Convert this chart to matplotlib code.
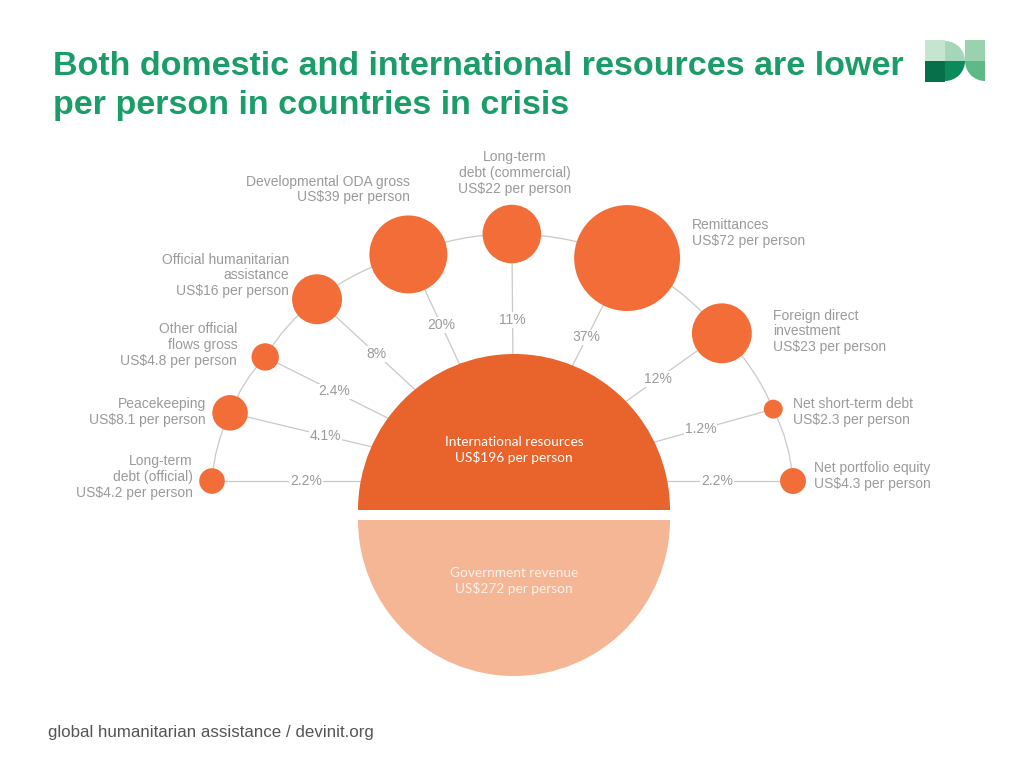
import matplotlib
matplotlib.use("Agg")
import matplotlib.pyplot as plt
import numpy as np
from matplotlib.patches import Circle, Wedge, Rectangle, FancyArrowPatch

# ---------------- data ----------------
flows = ["Long-term\ndebt (official)", "Peacekeeping", "Other official\nflows gross",
         "Official humanitarian\nassistance", "Developmental ODA gross",
         "Long-term\ndebt (commercial)", "Remittances", "Foreign direct\ninvestment",
         "Net short-term debt", "Net portfolio equity"]
per_person = [4.2, 8.1, 4.8, 16, 39, 22, 72, 23, 2.3, 4.3]
share_pct = ["2.2%", "4.1%", "2.4%", "8%", "20%", "11%", "37%", "12%", "1.2%", "2.2%"]

international_total = 196
government_total = 272

title = "Both domestic and international resources are lower\nper person in countries in crisis"
source = "global humanitarian assistance / devinit.org"

# ---------------- layout (pixels) ----------------
hub = (514, 481)                      # spokes converge here
angle_deg = [180, 166.5, 153.5, 137.3, 115, 90.5, 63.1, 35.4, 15.5, 0]
dist = [302, 292, 278, 268, 250, 247, 250, 255, 269, 279]
pct_dist = [208, 194, 201, 187, 172, 161, 161, 176, 194, 203]
lab_off = [(-19, -4, "right"), (-24, -1, "right"), (-28, -12, "right"), (-28, -24, "right"),
           (2, -65, "right"), (3, -61, "center"), (65, -25, "left"), (51, -2, "left"),
           (20, 3, "left"), (21, -5, "left")]
bubble_k = 6.24                      # radius = k * sqrt(value)

ORANGE = "#F26D38"
DARK_ORANGE = "#E8642C"
LIGHT_ORANGE = "#F5B696"
GREY_LINE = "#c9c9c9"
GREY_TEXT = "#9a9a9a"
GREEN = "#1b9d69"

fig = plt.figure(figsize=(10.24, 7.68), dpi=100)
ax = fig.add_axes([0, 0, 1, 1])
ax.set_xlim(0, 1024)
ax.set_ylim(768, 0)
ax.set_aspect("equal")
ax.axis("off")

sans = ["Liberation Sans", "DejaVu Sans"]

def polar(a, d):
    r = np.deg2rad(a)
    return hub[0] + d * np.cos(r), hub[1] - d * np.sin(r)

centers = [polar(a, d) for a, d in zip(angle_deg, dist)]

# arc linking the bubbles
for p, q in zip(centers[:-1], centers[1:]):
    ax.add_patch(FancyArrowPatch(p, q, arrowstyle="-", connectionstyle="arc3,rad=-0.1",
                                 color=GREY_LINE, lw=0.9, zorder=1, shrinkA=0, shrinkB=0))

# spokes + percentage labels
for (cx, cy), a, pd, s in zip(centers, angle_deg, pct_dist, share_pct):
    ax.plot([cx, hub[0]], [cy, hub[1]], color=GREY_LINE, lw=0.9, zorder=1)
    tx, ty = polar(a, pd)
    ax.text(tx, ty, s, ha="center", va="center", fontsize=10, color=GREY_TEXT,
            family=sans, zorder=2,
            bbox=dict(boxstyle="square,pad=0.05", fc="white", ec="none"))

# bubbles + labels
for (cx, cy), v, name, (dx, dy, ha) in zip(centers, per_person, flows, lab_off):
    ax.add_patch(Circle((cx, cy), bubble_k * np.sqrt(v), color=ORANGE, lw=0, zorder=3))
    ax.text(cx + dx, cy + dy, f"{name}\nUS${v:g} per person", ha=ha, va="center",
            multialignment=ha, fontsize=10, color=GREY_TEXT, family=sans,
            linespacing=1.15, zorder=4)

# central halves
ax.add_patch(Wedge((514, 510), 156, 180, 360, color=DARK_ORANGE, lw=0, zorder=5))
ax.add_patch(Wedge((514, 520), 156, 0, 180, color=LIGHT_ORANGE, lw=0, zorder=5))
ax.text(514, 450, f"International resources\nUS${international_total} per person",
        ha="center", va="center", fontsize=9.8, color="white", family=["Lato", "DejaVu Sans"],
        linespacing=1.2, zorder=6)
ax.text(514, 581, f"Government revenue\nUS${government_total} per person",
        ha="center", va="center", fontsize=9.8, color="#fdf1ea", family=["Lato", "DejaVu Sans"],
        linespacing=1.2, zorder=6)

# title and source
ax.text(53, 86, title, ha="left", va="center", fontsize=24.5, fontweight="bold",
        color=GREEN, family=sans, linespacing=1.32)
ax.text(48, 733, source, ha="left", va="center", fontsize=12.2, color="#555555", family=sans)

# logo
ax.add_patch(Rectangle((925, 40), 20, 21, color="#c6e5d1", lw=0))
ax.add_patch(Rectangle((925, 61), 20, 21, color="#07704b", lw=0))
ax.add_patch(Wedge((945, 61), 20, 270, 360, color="#a5d6b9", lw=0))
ax.add_patch(Wedge((945, 61), 20, 0, 90, color="#0b8a5c", lw=0))
ax.add_patch(Rectangle((965, 40), 20, 21, color="#9ad2b0", lw=0))
ax.add_patch(Wedge((985, 61), 20, 90, 180, color="#5db988", lw=0))

fig.savefig("out.png", dpi=100)
